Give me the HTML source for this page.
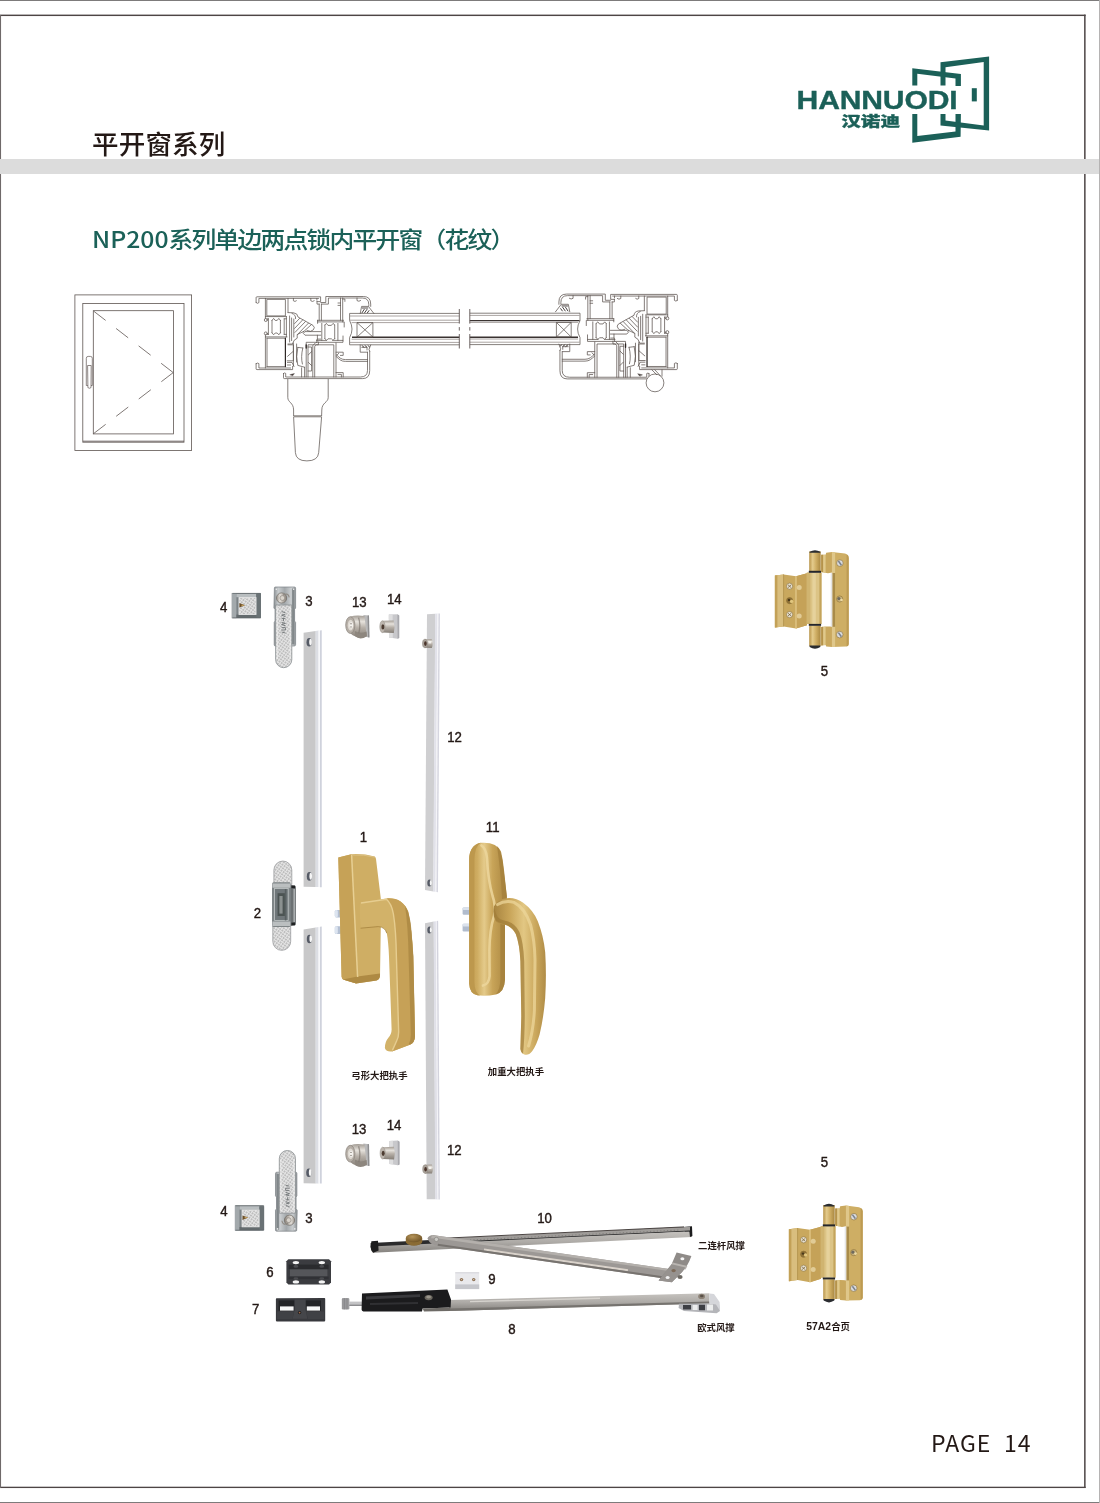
<!DOCTYPE html>
<html lang="zh-CN">
<head>
<meta charset="utf-8">
<title>平开窗系列 - NP200系列单边两点锁内平开窗（花纹）</title>
<style>
html,body{margin:0;padding:0;background:#fff;}
body{width:1100px;height:1503px;position:relative;overflow:hidden;font-family:"Liberation Sans","Noto Sans CJK SC",sans-serif;color:#231815;}
.abs{position:absolute;white-space:nowrap;line-height:1;}
#outer-top{left:0;top:0;width:1100px;height:1px;background:#7d7b7b;}
#outer-bottom{left:0;top:1502px;width:1100px;height:1px;background:#7d7b7b;}
#outer-right{left:1099px;top:0;width:1px;height:1503px;background:#b5b3b3;}
#band{left:0;top:159px;width:1099px;height:15px;background:#dcdcdc;}
#title{left:92px;top:130px;font-size:26.5px;font-family:"Noto Sans CJK SC","Liberation Sans",sans-serif;font-weight:500;color:#231815;letter-spacing:0.2px;}
#heading{left:92.4px;top:227px;font-size:22.5px;font-family:"Noto Sans CJK SC","Liberation Sans",sans-serif;font-weight:500;color:#1b6158;letter-spacing:-1.59px;transform:scaleX(1.1);transform-origin:0 0;}
#heading span{letter-spacing:0px;margin-right:0px;}
#pageno{left:931px;top:1431px;font-size:23px;font-family:"Noto Sans CJK SC","Liberation Sans",sans-serif;font-weight:400;color:#231815;letter-spacing:1.0px;word-spacing:6.4px;}
svg{position:absolute;left:0;top:0;will-change:transform;}
.abs{will-change:transform;}
</style>
</head>
<body>
<div class="abs" id="outer-top"></div>
<div class="abs" id="outer-bottom"></div>
<div class="abs" id="outer-right"></div>
<svg id="framesvg" width="1100" height="1503" viewBox="0 0 1100 1503"><g fill="#4d4545"><rect x="0" y="14.6" width="1085.6" height="1.45"/><rect x="1084.1" y="14.6" width="1.5" height="1473.4"/><rect x="0" y="1486.7" width="1085.6" height="1.35"/><rect x="0" y="15" width="1.05" height="1473" fill="#6f6969"/></g></svg>
<div class="abs" id="band"></div>
<div class="abs" id="title">平开窗系列</div>
<div class="abs" id="heading"><span>NP200</span>系列单边两点锁内平开窗（花纹）</div>
<div class="abs" id="pageno">PAGE 14</div>

<!--GRAPHICS-->
<svg id="gfx" width="1100" height="1503" viewBox="0 0 1100 1503">
<defs>
<g id="prof" fill="none" stroke="#5e5552" stroke-width="0.75" stroke-linejoin="round" stroke-linecap="round">
<!-- frame top shell -->
<path d="M256.1 302.6 L256.1 297.6 Q256.1 296.8 257 296.8 L320.6 296.8 L320.6 301.6 L317 301.6"/>
<path d="M256.1 302.6 Q257.5 304.2 258.9 302.6 L258.9 298.4 L318.7 298.4"/>
<path d="M293.4 298.4 v2.4 q1.6 1.4 3 0 M310.8 298.4 v2.4 q1.7 1.4 3.4 0 M316.9 298.4 v1.8"/>
<path d="M265.4 298.4 L265.4 318.4 M288 298.4 L288 312.4"/>
<rect x="267.2" y="299.4" width="18.2" height="16.5"/>
<path d="M265.4 316.6 L286.4 316.6"/>
<!-- thermal break frame -->
<circle cx="265.8" cy="320" r="1.5"/><circle cx="265.8" cy="333.4" r="1.5"/>
<path d="M268.4 318.8 L268.4 334.4 M272 320.4 L272 332.8 M280.4 320.4 L280.4 332.8 M284.2 318.8 L284.2 334.4"/>
<path d="M272 320.4 L273.6 318.4 L275.2 320.4 L277.2 320.4 L278.8 318.4 L280.4 320.4 M272 332.8 L273.6 334.8 L275.2 333 L277.2 333 L278.8 334.8 L280.4 332.8"/>
<path d="M267.2 318.8 L268.4 318.8 M267.2 334.4 L268.4 334.4 M284.2 318.8 L286.4 318.8 M284.2 334.4 L286.4 334.4 M286.4 316.6 L286.4 336.9"/>
<!-- frame bottom shell -->
<path d="M265.4 334.9 L265.4 368 M267 338.2 L267 366.6 M267 338.2 L285.4 338.2 M265.4 336.9 L287 336.9 M267 366.6 L285.4 366.6"/>
<path d="M256.1 363.6 L256.1 368.8 Q256.1 369.6 257 369.6 L292.6 369.6 L292.6 366.4"/>
<path d="M256.1 363.6 Q257.5 362.4 258.9 363.6 L258.9 368 L290.6 368"/>
<path d="M285.4 338.2 L285.4 366.6" stroke="#2e2725" stroke-width="1.2"/>
<!-- gasket hatch -->
<path d="M288 312.6 L293.6 312.8 Q297.8 313.4 298 317 L313 325.4 Q315.4 327.4 313.4 329.8 Q311 332.6 307 330.6 M288 344 L292.4 344 Q293.6 339.4 297.2 338.2 L297.2 334.6 L303.6 331.4"/>
<path d="M289.6 316 L289.6 342 M291.6 318 L291.6 340.6 M293.8 319 L293.8 337"/>
<path d="M299.6 318.4 L294.6 323.6 M302.6 320 L294.6 328.4 M305.4 321.6 L295 332.4 M308.4 323.2 L297.6 334.4 M311.2 324.8 L303 332.2 M292 313.4 Q296 314.6 295.6 318.6"/>
<path d="M288 344.8 L293.4 344.8 L293.4 360.8 L287.2 360.8 M293.4 351.2 L287.6 356.3"/>
<path d="M293.4 342.9 L293.4 366 M296.6 344 L296.6 362 M287.4 362.4 L292 362.4 L294 366.4 M287.4 365 L290.6 365"/>
<path d="M297.8 347.4 Q295.4 357 297.8 365.4 L304.6 367.2 M302.8 348 Q300.6 357 302.4 364 M297.8 347.4 L302.8 348"/>
<!-- striker / sash left -->
<path d="M306.2 377 L306.2 342.3 L317 342.3 L317 339.1 L320.6 339.1"/>
<path d="M308 377 L308 344.8 L318.4 344.8 L318.4 342"/>
<path d="M308 347 L311.6 347 L311.6 371 L308 371 M311.6 351.6 L308.4 354.8 M308.4 362.4 L311.6 365.6"/>
<path d="M306.2 344.8 L306.2 348" stroke="#2e2725" stroke-width="1.3"/>
<path d="M301.6 367.8 L301.6 377 M304.6 367.4 L304.6 377"/>
<!-- sash top -->
<path d="M320.8 302.5 L325.8 302.5 L325.8 296.5 L363.4 296.5 Q370.7 296.5 370.7 304.1 L370.7 306.4"/>
<path d="M321.4 304.1 L328.4 304.1 L328.4 298 L362.4 298 Q368.8 298 368.8 304.6 L368.8 306"/>
<path d="M317 301.6 L317 304.1 L319.2 304.1"/>
<path d="M319.2 304.1 L319.2 320.3 M321.4 304.1 L321.4 320.3 M340.5 298 L340.5 320.3 M342.7 298 L342.7 321.9"/>
<path d="M342.7 299 h2.2 v2.4 M338 303 h2.5 M338 305.4 h2.5 M357 298 v2.6 q1.8 1.4 3.6 0"/>
<path d="M317.6 320.3 L343.6 320.3 M317.6 321.9 L344.2 321.9 L344.2 327 M317.6 320.3 L317.6 323.4"/>
<!-- sash thermal -->
<path d="M321.8 323.4 L321.8 340.4 M324.9 325 L324.9 338.6 M334.7 325 L334.7 338.6 M337.9 323.4 L337.9 340.4"/>
<path d="M324.9 325 L326.4 323.4 L328 325.4 L331.4 325.4 L333 323.4 L334.7 325 M324.9 338.6 L326.6 340.4 L328 338.8 L331.4 338.8 L333 340.4 L334.7 338.6"/>
<path d="M320.8 331.6 L305 331.6 L303.4 333.4 L305 335.2 L320.8 335.2 M317.4 335.2 L317.4 339.1"/>
<path d="M316.4 340.4 L326.4 340.4 M332.8 340.4 L343 340.4 L343 336 M316.4 342.3 L343 342.3 L343 340.4"/>
<!-- sash bottom chamber -->
<path d="M312.8 377 L312.8 345.6 L315.4 342.9 M314.7 377 L314.7 346.4 L316.4 344.8 L333.8 344.8 L333.8 377 M336 342.9 L336 377"/>
<path d="M283.5 373.4 L283.5 377.8 Q283.5 378.6 284.3 378.6 L362.7 378.6 Q369.7 378.6 369.7 370.6 L369.7 351.2"/>
<path d="M283.5 373.4 Q284.6 372.4 285.7 373.4 L285.7 377 L360.4 377 Q367.5 377 367.5 370.4 L367.5 352.2"/>
<path d="M290.2 374.6 L294.4 373.6 L292.6 375.8 Z" fill="#3a3331" stroke-width="0.5"/>
<path d="M336 354.4 C339.4 357.6 341 359.6 345.4 359.6 L367.5 359.6 M336 356.4 C339.4 359.4 341 361.4 345.4 361.4 L367.5 361.4"/>
<path d="M336 352.2 L343.2 352.2 L343.2 355.4 L340.4 355.4 M338.6 353.4 L337 355.2 M336 372.6 L343.2 372.6 L343.2 377 M338 374.4 L341.4 374.4 L341.4 377"/>
<!-- glazing gaskets -->
<path d="M360.2 313.6 L361.6 306.4 L368.4 306.4 L374 313.6 M360.2 344.9 L360.2 352.2 L367.4 352.2 M361.8 347.4 L367 347.4 L367 350"/>
<path d="M362 312.8 L364.2 309.4 M364.6 312.8 L367 309.4 M367.4 312.8 L369 310.6 M362.4 308 L367.8 308 M362 345.6 L364 347.2 M365 345.6 L367 347.2 M368 345.6 L369.6 347" stroke-width="0.9" stroke="#3a3331"/>
<path d="M370.7 345 L369 349.4 L369.7 351.2"/>
</g>

<pattern id="dots" width="2.7" height="2.7" patternUnits="userSpaceOnUse" patternTransform="rotate(35)"><rect width="2.7" height="2.7" fill="#e4e4e4"/><circle cx="0.9" cy="0.9" r="0.72" fill="#8e8e8e"/></pattern>
<linearGradient id="nickH" x1="0" y1="0" x2="0" y2="1"><stop offset="0" stop-color="#a39c94"/><stop offset="0.28" stop-color="#e6e2dc"/><stop offset="0.55" stop-color="#b7b0a8"/><stop offset="1" stop-color="#857e76"/></linearGradient>
<linearGradient id="nickV" x1="0" y1="0" x2="1" y2="0"><stop offset="0" stop-color="#9d968e"/><stop offset="0.35" stop-color="#e4e0da"/><stop offset="0.7" stop-color="#b0a9a1"/><stop offset="1" stop-color="#8a837b"/></linearGradient>
<linearGradient id="steelV" x1="0" y1="0" x2="1" y2="0"><stop offset="0" stop-color="#8b9093"/><stop offset="0.2" stop-color="#c9cdcf"/><stop offset="0.5" stop-color="#a3a8ab"/><stop offset="0.85" stop-color="#d3d6d8"/><stop offset="1" stop-color="#8d9295"/></linearGradient>
<linearGradient id="goldBase1" x1="0" y1="0" x2="1" y2="0"><stop offset="0" stop-color="#c6a257"/><stop offset="0.3" stop-color="#cfac60"/><stop offset="0.36" stop-color="#e6cd8e"/><stop offset="0.42" stop-color="#c9a55a"/><stop offset="1" stop-color="#bf9a4e"/></linearGradient>
<linearGradient id="goldLev1" x1="0" y1="0" x2="1" y2="0"><stop offset="0" stop-color="#c39e52"/><stop offset="0.25" stop-color="#d2b068"/><stop offset="0.45" stop-color="#e2c684"/><stop offset="0.6" stop-color="#c9a65c"/><stop offset="1" stop-color="#b8934a"/></linearGradient>
<linearGradient id="goldBase2" x1="0" y1="0" x2="1" y2="0"><stop offset="0" stop-color="#c09a4e"/><stop offset="0.22" stop-color="#cfad62"/><stop offset="0.4" stop-color="#e4ca8a"/><stop offset="0.62" stop-color="#c8a458"/><stop offset="1" stop-color="#a98540"/></linearGradient>
<linearGradient id="goldLev2" x1="0" y1="0" x2="1" y2="0"><stop offset="0" stop-color="#a78440"/><stop offset="0.3" stop-color="#c8a458"/><stop offset="0.58" stop-color="#e2c783"/><stop offset="0.8" stop-color="#cba85d"/><stop offset="1" stop-color="#b08c46"/></linearGradient>
<linearGradient id="goldBar" x1="0" y1="0" x2="1" y2="0"><stop offset="0" stop-color="#b8944a"/><stop offset="0.3" stop-color="#e4cb8c"/><stop offset="0.6" stop-color="#cfae64"/><stop offset="1" stop-color="#a98740"/></linearGradient>
<linearGradient id="goldLeaf" x1="0" y1="0" x2="1" y2="0"><stop offset="0" stop-color="#d9bc78"/><stop offset="0.25" stop-color="#c9a85e"/><stop offset="0.6" stop-color="#d4b46c"/><stop offset="1" stop-color="#c19e54"/></linearGradient>
<linearGradient id="steelArm" x1="0" y1="0" x2="0" y2="1"><stop offset="0" stop-color="#c6c3bf"/><stop offset="0.5" stop-color="#aeaba7"/><stop offset="1" stop-color="#85827e"/></linearGradient>
<radialGradient id="brass" cx="0.4" cy="0.35" r="0.7"><stop offset="0" stop-color="#b5945a"/><stop offset="1" stop-color="#6f5325"/></radialGradient>
<g id="it3">
<path d="M274.4 588 Q274.4 587 275.4 587 L294.4 587 Q295.6 587 295.6 588.2 L295.6 608 L294.6 609.4 L294.6 621 L295.6 622.4 L295.6 644.6 Q295.6 646 294.2 646 L275.4 646 Q274.2 646 274.2 644.8 L274.2 622.4 L275 621 L275 609.4 L273.9 608 Z" fill="url(#steelV)" stroke="#7d8386" stroke-width="0.7"/>
<rect x="291.9" y="588.4" width="2.5" height="56" fill="#6f7578" opacity="0.75"/>
<circle cx="276.3" cy="589.3" r="0.8" fill="#eee"/><circle cx="293.6" cy="589.3" r="0.8" fill="#eee"/>
<path d="M275.6 605 L275.6 659.6 A8.1 8.1 0 0 0 291.8 659.6 L291.8 605 Z" fill="url(#dots)" stroke="#8a8f92" stroke-width="0.8"/>
<path d="M277.2 607 L277.2 659 M290.2 607 L290.2 659" stroke="#f3f3f3" stroke-width="0.8" fill="none"/>
<path d="M281.6 611.6 L285.4 612.6 M285.4 614.2 L281.6 615.2 L285.4 616.6 M281.6 618.4 L285.4 618.4 M283.5 618.4 L283.5 621 M281.6 622.4 L285.4 623.4 L281.6 624.6 L285.4 625.8 M281.6 627.6 L285.4 627.6 L285.4 630 L281.6 630 M281.6 632 L285.4 633" stroke="#6f7476" stroke-width="0.9" fill="none"/>
<circle cx="281.6" cy="598" r="5.1" fill="url(#nickV)" stroke="#6f6a64" stroke-width="0.7"/>
<circle cx="282.4" cy="598" r="2.4" fill="#d9d4cc" stroke="#7b756e" stroke-width="0.5"/>
<path d="M283 595 Q288.6 592.4 289.2 597.4" fill="none" stroke="#8e8982" stroke-width="1.1"/>
</g>
<g id="it4">
<rect x="231.8" y="593" width="29.2" height="25.2" fill="#7c8386"/>
<rect x="231.8" y="593" width="4.6" height="25.2" fill="#a3a9ac"/>
<rect x="236.4" y="593.6" width="20" height="3.6" fill="#b9bec0"/>
<rect x="236.4" y="614.6" width="20.4" height="3.2" fill="#646b6e"/>
<rect x="256.2" y="594" width="4.8" height="23.6" fill="#6a7275"/>
<rect x="239" y="597.6" width="17" height="16.8" fill="url(#dots)" stroke="#e9e9e9" stroke-width="0.9"/>
<path d="M239.4 603 L245 605.2 L239.4 607.6 Z" fill="#6b4f2a"/>
<path d="M241.5 604.4 L245 605.2 L241.5 606.2 Z" fill="#c7a25c"/>
<path d="M232.4 593.4 h28 M232.4 617.8 h28" stroke="#5c6366" stroke-width="0.7"/>
</g>
<g id="it13">
<path d="M363.4 615 L369 615.6 L369.4 637.4 L363.6 636.6 Z" fill="#b9b9ba"/>
<path d="M367.6 615.4 L369 615.6 L369.4 637.4 L368 637.2 Z" fill="#8e8e90"/>
<path d="M350.4 616.6 Q356 614.6 364.6 616 L366.4 634.6 Q360 639.4 355.6 636.6 Q352.4 635.4 350.6 633.6 Z" fill="url(#nickH)"/>
<path d="M354.8 631 Q360 634.4 366.6 631.4 L367 636.2 Q360.4 640.4 355.4 636.6 Z" fill="#8d867e"/>
<path d="M358.6 617.6 Q361 625 358.8 633.4" stroke="#7f7870" stroke-width="1.3" fill="none" opacity="0.7"/>
<ellipse cx="350.3" cy="625.1" rx="4.6" ry="8.4" fill="#b5aea6" stroke="#8a837b" stroke-width="0.7"/>
<ellipse cx="350.6" cy="625.2" rx="2.9" ry="5.4" fill="#ded9d2"/>
<ellipse cx="351.2" cy="625.3" rx="1.7" ry="3.1" fill="#f7f5f1"/>
<circle cx="351" cy="623.8" r="0.7" fill="#7a736b"/><circle cx="351" cy="626.9" r="0.7" fill="#7a736b"/>
</g>
<g id="it14">
<path d="M388.8 614.6 L397.4 614.2 L399.2 615.4 L399.2 638 L397.6 638.8 L389 637.6 Z" fill="#c8c8cb"/>
<path d="M388.8 614.6 L392.6 614.4 L392.8 638 L389 637.6 Z" fill="#dededf"/>
<path d="M397.4 614.2 L399.2 615.4 L399.2 638 L397.6 638.8 Z" fill="#a9a9ae"/>
<path d="M382.4 620.8 L393.6 620.4 Q395.4 626.6 393.8 633 L382.4 632.6 Z" fill="url(#nickH)"/>
<ellipse cx="382.4" cy="626.7" rx="2.6" ry="5.95" fill="#bdb6ae" stroke="#938c84" stroke-width="0.5"/>
<ellipse cx="382.9" cy="626.9" rx="1.5" ry="2.6" fill="#4d3c31"/>
</g>
<g id="pin">
<path d="M425 639.2 L431.6 639 Q433.6 643.4 431.8 648 L425 647.8 Z" fill="url(#nickH)"/>
<ellipse cx="425" cy="643.5" rx="2.5" ry="4.3" fill="#a9a29a" stroke="#8a837b" stroke-width="0.5"/>
<ellipse cx="425.4" cy="643.6" rx="1.3" ry="2.3" fill="#4a342a"/>
<path d="M428.6 641 h2.6 v2.4 h-2.6 Z" fill="#f4f2ee"/>
</g>
<g id="hinge">
<path d="M774.9 575.6 L783.6 574.4 L796 576.2 L807 573.2 L807 625.2 L796 628.6 L783.6 626.4 L774.9 627.6 Z" fill="#c9a85e"/>
<path d="M774.9 575.6 L783.6 574.4 L783.6 626.4 L774.9 627.6 Z" fill="#d9be7e"/>
<path d="M774.9 575.6 L777.4 575.3 L777.4 627.3 L774.9 627.6 Z" fill="#c3a157"/>
<path d="M796 576.2 L807 573.2 L807 625.2 L796 628.6 Z" fill="#c5a258"/>
<path d="M796 576.2 L796 628.6" stroke="#e4cc8e" stroke-width="1.2"/>
<path d="M783.6 574.4 L783.6 626.4" stroke="#b08f49" stroke-width="0.8"/>
<rect x="806.8" y="572.6" width="14.7" height="51.4" fill="#dcc486"/>
<rect x="806.8" y="572.6" width="3.6" height="51.4" fill="#d0b470"/>
<rect x="812.4" y="572.6" width="3.4" height="51.4" fill="#e6d29c"/>
<rect x="819.4" y="572.6" width="2.1" height="51.4" fill="#c4a45c"/>
<rect x="809.2" y="551.4" width="11.5" height="20" fill="url(#goldBar)"/>
<rect x="809.2" y="625.6" width="11.5" height="20.6" fill="url(#goldBar)"/>
<path d="M809.6 551.8 Q815 548.6 820.3 551.8 L820.3 552.8 L809.6 552.8 Z" fill="#2a2c30"/>
<rect x="808.8" y="570.8" width="12.3" height="2" fill="#25262a"/><rect x="808.8" y="623.9" width="12.3" height="1.9" fill="#25262a"/>
<path d="M809.6 645.4 L820.3 645.4 L820.3 647 Q815 650.6 809.6 647 Z" fill="#2a2c30"/>
<path d="M821.2 554.8 L825.6 554.8 L826.2 552.7 L832 552 L832 572.6 L828 573.3 L821.2 572 Z" fill="#c9a85e"/>
<path d="M823.2 554.8 L825.6 554.8 L825.6 572.8 L823.2 572.4 Z" fill="#e0c98c"/>
<path d="M821.2 627 L826 626.4 L832 626.6 L832 647 L826.2 646.4 L825.6 645 L821.2 645.4 Z" fill="#c9a85e"/>
<path d="M823.2 626.8 L825.6 626.5 L825.6 645 L823.2 645.2 Z" fill="#e0c98c"/>
<path d="M821.2 554.8 L823 554.8 L823 572.3 L821.2 572 Z M821.2 627 L823 626.8 L823 645.3 L821.2 645.4 Z" fill="#b5934b"/>
<path d="M831.9 552 L845 553.6 Q848.7 554.6 848.7 558 L848.7 644 Q848.7 646.4 846 646.6 L831.9 647 Z" fill="#ceae64"/>
<path d="M831.9 552 L835.1 552.4 L835.1 646.9 L831.9 647 Z" fill="#dfc78a"/>
<path d="M846.6 554.4 Q848.7 555 848.7 558 L848.7 644 Q848.7 646 846.6 646.5 Z" fill="#bd9b52"/>
<rect x="830.7" y="573.2" width="2" height="53.4" fill="#e4e4e4"/><rect x="832.5" y="573" width="2.6" height="53.8" fill="#a98b49"/>
<g stroke="#8a6f36" stroke-width="0.6"><circle cx="789.6" cy="586.2" r="3.1" fill="#e6e0d2"/><circle cx="789.6" cy="600.6" r="3.1" fill="#8f7136"/><circle cx="789.6" cy="614.6" r="3.1" fill="#e6e0d2"/>
<circle cx="839.9" cy="563.1" r="3.3" fill="#d9dadc"/><circle cx="839.7" cy="599" r="3.1" fill="#c8b27c"/><circle cx="839.7" cy="634.6" r="3.3" fill="#d9dadc"/></g>
<path d="M788 584.8 l3.2 2.8 M791.2 584.8 l-3.2 2.8 M788 613.2 l3.2 2.8 M791.2 613.2 l-3.2 2.8" stroke="#6e5a2e" stroke-width="0.7"/>
<circle cx="791.6" cy="601.4" r="1.7" fill="#e1c67e"/><circle cx="789" cy="600" r="1.2" fill="#4a3a1c"/>
<circle cx="838.9" cy="598.6" r="1.6" fill="#6f6a5e"/><circle cx="841.6" cy="600" r="1.3" fill="#ecd9a4"/>
<path d="M838.4 561 L841.4 565.2 M838.4 632.6 L841.4 636.8" stroke="#7b828c" stroke-width="1.5"/>
<circle cx="799.2" cy="587.6" r="2.5" fill="#e3cf9c" opacity="0.9"/><circle cx="799.2" cy="616" r="2.5" fill="#e3cf9c" opacity="0.9"/>
</g>

</defs>
<g id="logo" fill="#1b6058">
<text transform="translate(796.6,109.1) scale(1.172,1)" font-family="Liberation Sans, sans-serif" font-weight="700" font-size="25.7" stroke="#1b6058" stroke-width="0.35" letter-spacing="-0.15">HANNUODI</text>
<text transform="translate(841.2,126.3) scale(1.445,1)" font-family="Noto Sans CJK SC, sans-serif" font-weight="900" font-size="13.6" stroke="#1b6058" stroke-width="0.3">汉诺迪</text>
<path d="M912.3 85.5 L912.3 68.2 L960.9 74.1 L960.9 85.9 L955.5 85.9 L955.5 78.6 L917.3 73.7 L917.3 85.5 Z"/>
<path d="M912.3 114.1 L917.3 114.1 L917.3 136 L955.5 131.4 L955.5 114.1 L960.9 114.1 L960.6 136.8 L912.3 142.7 Z"/>
<path d="M940.5 85.5 L940.5 62.3 L989.1 56.4 L989.1 130.5 L940.5 125.5 L940.5 114.1 L945.5 114.1 L945.5 120.5 L983.7 125.4 L983.7 61.9 L945.5 67.3 L945.5 85.5 Z"/>
<rect x="971.8" y="88.2" width="5" height="13.2"/>
</g>

<g id="window" fill="none" stroke="#5e5552" stroke-width="0.8">
<rect x="74.9" y="294.9" width="116.7" height="155.6"/>
<rect x="82.8" y="303.5" width="101.2" height="138.7"/>
<line x1="83" y1="441.2" x2="184" y2="441.2" stroke-width="0.9"/>
<rect x="93.3" y="310.7" width="80.1" height="123.2"/>
<path d="M93.6 311.1 L173.2 372.6" stroke-dasharray="15.2 13.25"/>
<path d="M93.6 433.6 L173.2 372.6" stroke-dasharray="15.2 13.25"/>
<path d="M86.3 358.3 Q86.3 356.4 88.2 356.4 L90.4 356.4 Q92.3 356.4 92.3 358.3 L92.3 385.5 L86.3 385.5 Z" stroke-width="0.7"/>
<path d="M87.6 365.5 L91.2 365.5 L91 387.6 Q89.5 388.9 87.9 387.6 Z" fill="#fff" stroke-width="0.7"/>
</g>

<g id="section">
<use href="#prof"/>
<use href="#prof" transform="translate(941.85,-12.2) scale(-1.033,1.033)"/>
<g fill="none" stroke="#5e5552" stroke-width="0.75" stroke-linejoin="round">
<!-- handle on left -->
<path d="M287.8 379 L287.8 397.6 C287.8 402.4 293.6 402.6 293.6 410 L293.6 416 M328.2 379 L328.2 397.6 C328.2 402.4 321.8 402.6 321.8 410 L321.6 416"/>
<path d="M293.6 415.8 L321.6 415.8 M293.7 416.8 L321.5 416.8"/>
<path d="M293.6 416.8 L295.4 452.6 Q296 460.9 306.9 460.9 Q318 460.9 318.7 452.6 L321.6 416.8"/>
<!-- hinge circle on right -->
<circle cx="655" cy="382.9" r="8.9" fill="#fff"/>
<path d="M651.6 369.6 L657 375 M654.6 369.6 L660.4 375.8 M662 369.4 L662 376.6"/>
<!-- glass left piece -->
<path d="M459.3 313.4 L349.6 313.4 L349.6 320.6 Q354.4 329 349.6 337.6 L349.6 344.8 L459.3 344.8"/>
<path d="M350 316 L459.3 316 M350 320.2 L459.3 320.2 M351.6 322.6 L459.3 322.6 M351.6 339.2 L459.3 339.2 M350 342.4 L459.3 342.4" stroke="#8d8683"/>
<path d="M352 337.3 L459.3 337.3" stroke="#3a3331" stroke-width="1.4"/>
<rect x="357" y="322.6" width="15.9" height="14.4"/><path d="M357 322.6 L372.9 337 M372.9 322.6 L357 337"/>
<!-- glass right piece -->
<path d="M469.8 313.2 L580 313.2 L580 320.6 Q575.2 329 580 337.6 L580 344.6 L469.8 344.6"/>
<path d="M469.8 315.4 L579.6 315.4 M469.8 322.4 L578 322.4 M469.8 339 L578 339 M469.8 342.2 L579.6 342.2" stroke="#8d8683"/>
<path d="M469.8 320.6 L579.6 320.6 M469.8 337.2 L578 337.2" stroke="#3a3331" stroke-width="1.4"/>
<rect x="556.4" y="322.4" width="14.8" height="14.6"/><path d="M556.4 322.4 L571.2 337 M571.2 322.4 L556.4 337"/>
<!-- break lines -->
<path d="M459.3 309 L459.3 323.6 M459.3 327.1 L459.3 330.6 M459.3 334 L459.3 348.5 M469.8 309 L469.8 323.6 M469.8 327.1 L469.8 330.6 M469.8 334 L469.8 348.5" stroke-width="0.9"/>
</g>
</g>

<g id="rods">
<path d="M303.6 632.8 L315.75 631.1 L315.75 887.0 L303.6 886.7 Z" fill="#c8c8c9"/>
<path d="M315.6 631.1 L318.65 630.6 L318.65 887.1 L315.6 887.0 Z" fill="#dcdee4"/>
<path d="M318.5 630.6 L320.15 630.4 L320.15 887.2 L318.5 887.1 Z" fill="#f6f7fa"/>
<path d="M320.0 630.4 L321.75 630.2 L321.75 887.2 L320.0 887.2 Z" fill="#cfd2dc"/>
<ellipse cx="309.2" cy="642.3" rx="2.7" ry="4.3" fill="#565b66"/>
<ellipse cx="310.55" cy="642.10" rx="1.35" ry="3.44" fill="#f6f6f6"/>
<ellipse cx="309.4" cy="876.4" rx="2.6" ry="4.3" fill="#565b66"/>
<ellipse cx="310.75" cy="876.20" rx="1.30" ry="3.44" fill="#f6f6f6"/>
<path d="M303.6 929.4 L315.75 927.4 L315.75 1183.5 L303.6 1183.3 Z" fill="#c8c8c9"/>
<path d="M315.6 927.4 L318.65 926.9 L318.65 1183.5 L315.6 1183.5 Z" fill="#dcdee4"/>
<path d="M318.5 926.9 L320.15 926.7 L320.15 1183.6 L318.5 1183.5 Z" fill="#f6f7fa"/>
<path d="M320.0 926.7 L321.75 926.4 L321.75 1183.6 L320.0 1183.6 Z" fill="#cfd2dc"/>
<ellipse cx="309.4" cy="939" rx="2.6" ry="4.3" fill="#565b66"/>
<ellipse cx="310.75" cy="938.80" rx="1.30" ry="3.44" fill="#f6f6f6"/>
<ellipse cx="308.8" cy="1172.7" rx="2.6" ry="4.3" fill="#565b66"/>
<ellipse cx="310.15" cy="1172.50" rx="1.30" ry="3.44" fill="#f6f6f6"/>
<path d="M427.0 614.3 L435.35 613.8 L433.35 891.4 L425.0 890.0 Z" fill="#cfcfd1"/>
<path d="M435.2 613.8 L437.55 613.6 L435.55 891.8 L433.2 891.4 Z" fill="#e2e2ea"/>
<path d="M437.4 613.6 L438.65 613.6 L436.65 892.0 L435.4 891.8 Z" fill="#f4f4f8"/>
<path d="M438.5 613.6 L439.95 613.5 L437.95 892.2 L436.5 892.0 Z" fill="#d6d6e0"/>
<ellipse cx="429.5" cy="883" rx="2.2" ry="3.6" fill="#565b66"/>
<ellipse cx="430.85" cy="882.80" rx="1.10" ry="2.88" fill="#f6f6f6"/>
<path d="M425.0 923.2 L433.75 921.6 L435.45 1199.3 L426.7 1199.2 Z" fill="#cdcdcf"/>
<path d="M433.6 921.6 L435.95 921.2 L437.65 1199.4 L435.3 1199.3 Z" fill="#e0e0e8"/>
<path d="M435.8 921.2 L436.95 921.0 L438.65 1199.4 L437.5 1199.4 Z" fill="#f4f4f8"/>
<path d="M436.8 921.0 L438.15 920.8 L439.85 1199.4 L438.5 1199.4 Z" fill="#d3d3dd"/>
<ellipse cx="429.5" cy="930" rx="2.2" ry="3.6" fill="#565b66"/>
<ellipse cx="430.85" cy="929.80" rx="1.10" ry="2.88" fill="#f6f6f6"/>
</g>
<use href="#it3"/>
<use href="#it3" transform="rotate(180 285.55 909.1)"/>
<use href="#it4"/>
<use href="#it4" transform="translate(3.1,612.4)"/>
<use href="#it13"/>
<use href="#it13" transform="translate(0,528.6)"/>
<use href="#it14"/>
<use href="#it14" transform="translate(0.3,526.4)"/>
<use href="#pin"/>
<use href="#pin" transform="translate(0.2,525.6)"/>
<g id="it2">
<path d="M273.9 884.5 L273.9 870 A8.95 8.95 0 0 1 291.8 870 L291.8 884.5 Z" fill="url(#dots)" stroke="#9a9c9e" stroke-width="0.8"/>
<path d="M272.8 926 L272.8 941.4 A8.95 8.95 0 0 0 290.7 941.4 L290.7 926 Z" fill="url(#dots)" stroke="#9a9c9e" stroke-width="0.8"/>
<path d="M290 886 Q290 885 291 885 L294.6 885.6 Q295.9 885.8 295.9 887 L295.9 924 Q295.9 925.4 294.6 925.6 L291 926 Q290 926 290 925 Z" fill="#6c7173"/>
<rect x="291.4" y="885.6" width="3.6" height="2.6" fill="#1f2122"/><rect x="291.4" y="922.6" width="3.6" height="2.6" fill="#1f2122"/>
<rect x="293.4" y="889" width="1.6" height="33" fill="#a9adaf"/>
<path d="M272 884 Q272 882.2 273.8 882.2 L289 882.2 Q290.7 882.2 290.7 884 L290.7 925 Q290.7 926.9 289 926.9 L273.8 926.9 Q272 926.9 272 925 Z" fill="#7f8587"/>
<path d="M272.4 883.4 h18 v4.4 h-18 Z M272.4 921.4 h18 v4.6 h-18 Z" fill="#c2c5c6" opacity="0.9"/>
<rect x="274.6" y="888.6" width="13.6" height="32" fill="#70777a" stroke="#c4c8c9" stroke-width="0.8"/>
<rect x="277.6" y="893.2" width="7.3" height="22.8" fill="#4c5453"/>
<rect x="279.4" y="896" width="3.2" height="17.6" fill="#8b9190"/>
<path d="M285.6 889 L285.6 920.4" stroke="#596062" stroke-width="1.6"/>
</g>
<g id="handle1">
<rect x="334.8" y="910" width="6.4" height="7.4" rx="1.6" fill="#b4c0d3"/><rect x="334.8" y="926.2" width="6.4" height="7.8" rx="1.6" fill="#b4c0d3"/>
<rect x="334.8" y="910" width="3" height="7.4" rx="1.4" fill="#dde5f0"/><rect x="334.8" y="926.2" width="3" height="7.8" rx="1.4" fill="#dde5f0"/>
<path d="M338.3 857.6 L351.4 854.2 Q364 853.6 374.6 856.4 Q375.8 857 376 859 L380.8 898.4 L380.8 926 L380 976 Q379.6 979.6 376.6 980.4 L356.2 983.4 L343 979.4 Q341.8 978.6 341.6 976.4 Z" fill="#cfae64"/>
<path d="M338.3 857.6 L351.4 854.2 L357.6 977 L356.2 983.4 L343 979.4 Q341.8 978.6 341.6 976.4 Z" fill="#c6a257"/>
<path d="M343 979.4 L357.4 976.6 L379.9 973.6 L380 976 Q379.6 979.6 376.6 980.4 L356.2 983.4 Z" fill="#ae8a43"/>
<path d="M351.6 854.6 Q354.4 915 357.6 977" fill="none" stroke="#e7cf93" stroke-width="1.5"/>
<path d="M352.8 855 Q364 854.4 374.8 857.2" fill="none" stroke="#dcc183" stroke-width="1"/>
<path d="M360 902.6 L386.6 898.4 Q402.4 897.4 408.2 911.6 Q412 930 413.2 956.5 L415 1036.4 Q414.8 1042.2 409.9 1044.8 L392 1051.4 Q386.6 1052.2 384.9 1048.2 Q384.8 1042 388.2 1038 Q391.8 1034 391.6 1029 L389 956.5 Q388.4 942 386.8 933.2 Q385 927 378.3 926.6 L360.8 928.4 Q359.4 915 360 902.6 Z" fill="#d2b269"/>
<path d="M386.6 898.4 Q402.4 897.4 408.2 911.6 Q412 930 413.2 956.5 L415 1036.4 Q414.8 1042.2 409.9 1044.8 L392 1051.4 L396.6 1041 Q399 1036.8 398.6 1030 L396.4 957 Q396 930 393.4 914 Q391.6 903.4 386.6 898.4 Z" fill="#c6a157"/>
<path d="M405 906 Q410.4 914 411.4 930 L413.4 956 L415 1036.4 Q414.8 1042.2 409.9 1044.8 L408.8 1044 Q411 1040 410.8 1034 L408.6 957 Q408 925 405 906 Z" fill="#a88540" opacity="0.75"/>
<path d="M361 903 L386.4 899.2 Q391.6 903.4 393.4 914 Q396 930 396.4 957 L398.6 1030 Q399 1036.8 396.6 1041 L392.4 1050.4" fill="none" stroke="#e6cd90" stroke-width="1.4"/>
<path d="M360.6 928.2 L378.3 926.6 Q385 927 386.8 933.2" fill="none" stroke="#a07d39" stroke-width="0.9" opacity="0.8"/>
</g>
<g id="handle11">
<rect x="462.6" y="907.4" width="7.4" height="7.4" rx="1.2" fill="#b1bccd"/><rect x="462.6" y="923.8" width="7.4" height="7.6" rx="1.2" fill="#b1bccd"/>
<rect x="462.6" y="907.4" width="7.4" height="2.6" rx="1.2" fill="#dbe2ec"/><rect x="462.6" y="923.8" width="7.4" height="2.6" rx="1.2" fill="#dbe2ec"/>
<path d="M469.2 859 Q469.4 845.6 480.6 842.8 Q496.6 841.6 501 851.6 Q503 860 504 870 L506.8 896 L506.8 910 L505 925 L505 979.6 Q504.4 992.4 495.8 994.4 Q486 996.4 477.4 995.2 Q469.6 993.6 469.2 983.4 Z" fill="url(#goldBase2)"/>
<path d="M469.2 859 Q469.4 845.6 480.6 842.8 Q474.6 846.6 474.4 860 L474.4 982 Q474.6 992.6 480 995.4 L477.4 995.2 Q469.6 993.6 469.2 983.4 Z" fill="#bd984d"/>
<path d="M481.4 845.4 Q486 848.4 487 858 Q488 880 492.6 896 Q496 906 494 916 Q489.6 930 489.4 950 L489.6 976 Q489 984 483 985.6" fill="none" stroke="#ecd69c" stroke-width="2.6" stroke-linecap="round" opacity="0.85"/>
<path d="M497 846 Q501 850.6 502.6 862 L506.8 896 L506.8 910 L505 925 L505 979.6 Q504.4 992.4 495.8 994.4 Q500 990 500.4 979 L500.4 925 Q502.4 912 502 897 Q500.6 870 497 846 Z" fill="#a5813c" opacity="0.8"/>
<path d="M493.9 906.6 Q497.6 899 506.7 898.2 Q516 897.4 523.2 902.8 Q533 910 537.8 921.2 Q543.6 936 545.2 952.2 Q546.6 975 545.2 998 Q543.6 1018 539.6 1034.5 Q536.6 1045 532.3 1051 Q528.6 1055.6 525 1054.7 Q521 1053.6 520.4 1049 L521.3 1016.2 L520.4 961.3 Q519.6 944 515.8 934 Q512 926.6 504.9 924.8 Q498 923.6 495.7 921.2 Q492.4 915 493.9 906.6 Z" fill="url(#goldLev2)"/>
<path d="M497.6 904.6 Q505 899.8 514 902.4 Q525 908 530.6 925 Q534.6 940 535 960 L534.4 1010 Q533.4 1030 528.6 1046" fill="none" stroke="#ecd59a" stroke-width="3" stroke-linecap="round" opacity="0.75"/>
<path d="M494.2 908 Q493.6 915 496.2 920.6 Q499 923.2 505 924.6 Q512 926.6 515.8 934 Q519.6 944 520.4 961.3 L521.3 1016.2 L520.4 1049 Q520.8 1052.4 523 1053.8 Q524.6 1040 524.8 1016 L524.2 961 Q523.4 942 519.4 932 Q515 923 506 921 Q498 919.6 496.2 914 Z" fill="#a07c38" opacity="0.7"/>
</g>
<use href="#hinge"/>
<use href="#hinge" transform="translate(14.0,653.6)"/>
<g id="it6">
<path d="M288.4 1259.2 L329 1259.2 L331 1261.2 L331 1282.4 L329 1284.4 L288.4 1284.4 L286.4 1282.4 L286.4 1261.2 Z" fill="#3b3c40"/>
<rect x="288.6" y="1264.6" width="40" height="4.6" fill="#2a2b2e"/>
<rect x="290" y="1269.4" width="37.4" height="7" fill="#55565a"/>
<rect x="288.6" y="1276.6" width="40" height="2.6" fill="#303135"/>
<ellipse cx="295.9" cy="1262.6" rx="3.2" ry="1.7" fill="#f4f4f4"/><ellipse cx="321.8" cy="1262.6" rx="3.2" ry="1.7" fill="#f4f4f4"/>
<ellipse cx="295.9" cy="1281.9" rx="3.2" ry="1.7" fill="#f4f4f4"/><ellipse cx="321.8" cy="1281.9" rx="3.2" ry="1.7" fill="#f4f4f4"/>
<ellipse cx="295.9" cy="1266.4" rx="2.4" ry="1.3" fill="#4b4c50"/><ellipse cx="321.8" cy="1266.4" rx="2.4" ry="1.3" fill="#4b4c50"/>
<ellipse cx="295.9" cy="1278.6" rx="2.4" ry="1.3" fill="#4b4c50"/><ellipse cx="321.8" cy="1278.6" rx="2.4" ry="1.3" fill="#4b4c50"/>
</g>
<g id="it7">
<path d="M276.6 1298.2 L324.4 1298 Q325.2 1298 325.2 1298.8 L325.2 1320.4 Q325.2 1321.4 324.2 1321.4 L277 1321.4 Q275.9 1321.4 275.9 1320.4 L275.9 1299 Q275.9 1298.2 276.6 1298.2 Z" fill="#38393d"/>
<rect x="278.6" y="1300.4" width="16" height="10.4" fill="#222326"/><rect x="305.6" y="1300.4" width="15.4" height="10.4" fill="#222326"/>
<rect x="280" y="1306.4" width="13.6" height="4.2" fill="#f6f6f6"/><rect x="306.8" y="1306.4" width="13.2" height="4.2" fill="#f6f6f6"/>
<path d="M294.6 1299.6 L305.6 1299.6 L305.6 1310 L307.4 1318.8 L292.6 1318.8 L294.6 1310 Z" fill="#45464a"/>
<path d="M277 1311.6 L294 1311.6 L292.4 1319 L277 1319 Z M306.2 1311.6 L324 1311.6 L324 1319 L308 1319 Z" fill="#404145"/>
<circle cx="299.6" cy="1312.6" r="1.7" fill="#1c1c1e"/><circle cx="299.6" cy="1312.6" r="0.9" fill="#a06a4a"/>
</g>
<g id="it9">
<rect x="455.2" y="1272.3" width="24" height="16.8" rx="0.8" fill="#e9e9ec"/>
<rect x="455.2" y="1284.4" width="24" height="4.7" fill="#c6c7cc"/>
<rect x="455.2" y="1272.3" width="24" height="1" fill="#d4d5d9"/>
<circle cx="461.5" cy="1279.6" r="1.7" fill="#8b6f52"/><circle cx="473.7" cy="1279.6" r="1.7" fill="#8b6f52"/>
<circle cx="461.5" cy="1279.6" r="0.7" fill="#d8c9b4"/><circle cx="473.7" cy="1279.6" r="0.7" fill="#d8c9b4"/>
</g>
<g id="stay10">
<path d="M370.6 1243 L692 1226.6 L692 1231.4 L370.6 1247.6 Z" fill="#2b2b2c"/>
<path d="M371 1246.6 L692 1231.2 L692 1237 L373 1252.8 Q370.8 1251 371 1246.6 Z" fill="url(#steelArm)"/>
<path d="M371.4 1241.2 L378 1240.8 L378.6 1250.6 L373.2 1252.8 Q370.6 1251 370.6 1247 Z" fill="#1d1d1e"/>
<path d="M684.6 1227 L692 1226.6 L692.4 1236 L690 1237 L689.4 1231.4 L684.8 1231.6 Z" fill="#1d1d1e"/>
<path d="M440 1238.6 L690 1226.8 L690 1230.4 L440 1242.4 Z" fill="#9f9c99"/><path d="M440 1238.4 L684 1226.9" stroke="#4c4644" stroke-width="1"/>
<path d="M470 1240 L680 1230" stroke="#7d7a77" stroke-width="0.9" stroke-dasharray="1.2 2.2"/>
<path d="M427.4 1238.6 Q429 1234.8 433.6 1235 L441 1236.2 L672.6 1269.4 L671.4 1279.6 L437.6 1245.8 Q430.6 1245.4 427.4 1238.6 Z" fill="#9c9895"/>
<path d="M432 1235.2 L441 1236.2 L672.6 1269.4 L672.3 1271.6 L440 1238.8 L431 1238.2 Z" fill="#b4b0ac"/>
<path d="M484 1249.6 L628 1270.2" stroke="#d9d2ca" stroke-width="2"/>
<path d="M437.6 1245.8 L671.4 1279.6 L671.7 1277.6 L438 1243.8 Z" fill="#77736f"/>
<circle cx="436.4" cy="1239.4" r="2.1" fill="#c9c8c4" stroke="#7f7d79" stroke-width="0.6"/>
<ellipse cx="414" cy="1241.4" rx="8.2" ry="4.2" fill="#7a5d2b"/>
<path d="M405.8 1238 L405.8 1241.4 A8.2 4.2 0 0 0 422.2 1241.4 L422.2 1238 Z" fill="#8a6b34"/>
<ellipse cx="414" cy="1238" rx="8.2" ry="4.2" fill="url(#brass)"/>
<path d="M676.6 1252.6 L691.4 1256 Q688 1266 681.6 1272.4 L671.8 1282.2 L658.6 1280.6 L671.6 1264.2 Z" fill="#8f8b88"/>
<path d="M672.6 1262.6 L687.4 1266 L685.6 1269.6 L670.8 1266 Z" fill="#b9b5b1"/>
<path d="M671.6 1264.2 L685.6 1267.6 L681.6 1272.4 L671.8 1282.2 L658.6 1280.6 Z" fill="#96928f"/>
<ellipse cx="682.4" cy="1258.8" rx="2" ry="1.5" fill="#f5f5f5"/><ellipse cx="673.6" cy="1270.6" rx="2.2" ry="1.7" fill="#7d6a58"/><ellipse cx="667.6" cy="1277.4" rx="2" ry="1.5" fill="#f0f0f0"/>
<ellipse cx="680" cy="1277" rx="2.6" ry="2" fill="#6e6a64"/>
</g>
<g id="stay8">
<path d="M449 1300 L709.4 1293.2 L709.4 1303.6 L449 1311 Z" fill="url(#steelArm)"/>
<path d="M449 1308.6 L709.4 1301.6 L709.4 1303.6 L449 1311 Z" fill="#76736f"/>
<path d="M470 1301.6 L600 1298.2" stroke="#d6d3ce" stroke-width="1.4"/>
<path d="M679 1303.8 L719 1303.4 L720 1311 L716.6 1313.2 L684 1311 L678.6 1308 Z" fill="#b4b5b9"/>
<path d="M683 1305 h8 v4.6 h-8 Z M699 1304.8 h6 v5.4 h-6 Z" fill="#3d3f44"/>
<path d="M709.4 1293.4 L714 1294 L719.6 1302 L720 1311 L716 1304.6 L709.4 1303.6 Z" fill="#d5d6da"/>
<path d="M692.6 1305 h5 v5 h-5 Z M707 1304.6 h6 v6 h-6 Z" fill="#eceded"/>
<ellipse cx="701.6" cy="1296.4" rx="3.4" ry="2.6" fill="#8d8377"/><ellipse cx="701.8" cy="1296" rx="1.8" ry="1.3" fill="#5a5148"/>
<rect x="341.8" y="1298" width="7.6" height="11.6" rx="1.4" fill="#a8a8aa"/>
<path d="M343 1298.4 v10.8 M344.6 1298.2 v11.2 M346.2 1298.2 v11.2 M347.8 1298.4 v10.8" stroke="#707073" stroke-width="0.6"/>
<rect x="349.2" y="1301.6" width="14" height="4.4" fill="#c3c3c5"/><rect x="349.2" y="1304.6" width="14" height="1.4" fill="#8c8c8f"/>
<path d="M362 1293.6 L447.4 1289.6 L451 1299.4 L450.6 1307.6 L422.6 1308.4 L422 1311.4 L363.4 1311.4 Q361.6 1311.4 361.6 1309.6 Z" fill="#1b1b1d"/>
<path d="M366 1296.6 L420 1294.2 L420 1297 L366 1299.4 Z" fill="#3a3a3d"/>
<path d="M370 1303 L418 1302 L418 1304 L370 1305 Z" fill="#303033"/>
<ellipse cx="428.6" cy="1297.6" rx="4" ry="2.6" fill="#6b675f"/><ellipse cx="428.6" cy="1297" rx="2.4" ry="1.4" fill="#9a958b"/>
<path d="M422.6 1308.4 L450.6 1307.6 L449.6 1311 L424 1311.6 Z" fill="#6d6a66"/>
</g>

<g id="labels" fill="#231815">
<g font-family="Liberation Sans, sans-serif" font-size="14.2" text-anchor="middle" stroke="#231815" stroke-width="0.4">
<text transform="translate(223.7,612.2) scale(0.93,1)">4</text>
<text transform="translate(309.0,606.2) scale(0.93,1)">3</text>
<text transform="translate(359.3,607.4) scale(0.93,1)">13</text>
<text transform="translate(394.3,604.2) scale(0.93,1)">14</text>
<text transform="translate(454.5,742.0) scale(0.93,1)">12</text>
<text transform="translate(363.5,841.7) scale(0.93,1)">1</text>
<text transform="translate(492.7,832.4) scale(0.93,1)">11</text>
<text transform="translate(257.5,918.0) scale(0.93,1)">2</text>
<text transform="translate(824.4,676.4) scale(0.93,1)">5</text>
<text transform="translate(824.4,1167.0) scale(0.93,1)">5</text>
<text transform="translate(359.0,1133.6) scale(0.93,1)">13</text>
<text transform="translate(394.1,1130.4) scale(0.93,1)">14</text>
<text transform="translate(454.3,1155.0) scale(0.93,1)">12</text>
<text transform="translate(309.0,1223.0) scale(0.93,1)">3</text>
<text transform="translate(223.8,1215.6) scale(0.93,1)">4</text>
<text transform="translate(269.8,1276.8) scale(0.93,1)">6</text>
<text transform="translate(255.7,1313.6) scale(0.93,1)">7</text>
<text transform="translate(492.0,1283.7) scale(0.93,1)">9</text>
<text transform="translate(544.5,1222.7) scale(0.93,1)">10</text>
<text transform="translate(511.8,1333.7) scale(0.93,1)">8</text>
</g>
<g font-family="Liberation Sans, Noto Sans CJK SC, sans-serif" font-size="9.4" font-weight="700" text-anchor="middle">
<text x="379.5" y="1079.0">弓形大把执手</text>
<text x="515.9" y="1075.2">加重大把执手</text>
<text x="721.5" y="1249.2">二连杆风撑</text>
<text x="716.0" y="1331.4">欧式风撑</text>
<text x="828.1" y="1330.2"><tspan font-size="10.4">57A2</tspan>合页</text>
</g></g>

</svg>


</body>
</html>
